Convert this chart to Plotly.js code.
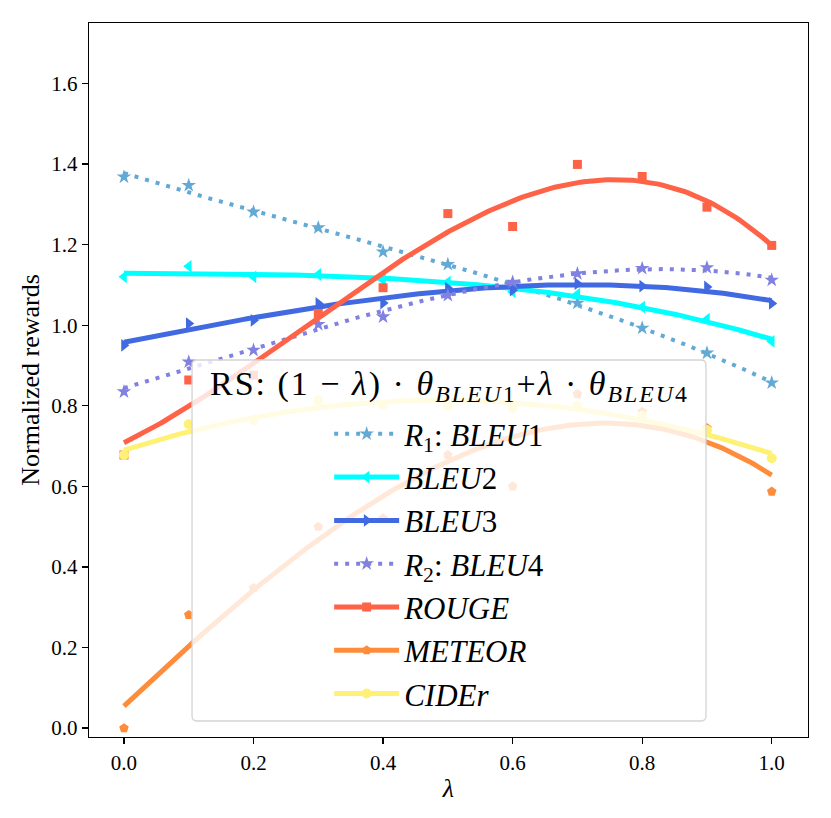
<!DOCTYPE html>
<html>
<head>
<meta charset="utf-8">
<script src="https://cdn.plot.ly/plotly-3.0.1.min.js"></script>
<style>
  html, body { margin: 0; padding: 0; background: #fff; }
  #chart { width: 831px; height: 818px; }
  /* wider spacing, closer to the math italic look of the original */
  #chart .annotation-text { letter-spacing: 2px; }
</style>
</head>
<body>
<div id="chart"></div>
<script>
// lambda values on the x axis
var lambdas = [0.0, 0.1, 0.2, 0.3, 0.4, 0.5, 0.6, 0.7, 0.8, 0.9, 1.0];

// normalized rewards
var bleu1  = [1.368, 1.347, 1.281, 1.242, 1.182, 1.151, 1.104, 1.055, 0.993, 0.931, 0.857];
var bleu2  = [1.120, 1.146, 1.120, 1.126, 1.112, 1.107, 1.083, 1.077, 1.045, 1.015, 0.960];
var bleu3  = [0.950, 1.004, 1.012, 1.054, 1.055, 1.092, 1.087, 1.103, 1.097, 1.095, 1.054];
var bleu4  = [0.835, 0.909, 0.938, 1.002, 1.021, 1.074, 1.107, 1.128, 1.141, 1.143, 1.112];
var rouge  = [0.678, 0.864, 0.876, 1.029, 1.093, 1.277, 1.245, 1.399, 1.369, 1.293, 1.198];
var meteor = [0.000, 0.281, 0.348, 0.500, 0.521, 0.678, 0.600, 0.829, 0.785, 0.745, 0.587];
var cider  = [0.678, 0.754, 0.764, 0.814, 0.802, 0.800, 0.794, 0.800, 0.775, 0.740, 0.670];

var xTicks = [0.0, 0.2, 0.4, 0.6, 0.8, 1.0];
var yTicks = [0.0, 0.2, 0.4, 0.6, 0.8, 1.0, 1.2, 1.4, 1.6];

var series = [
  {name: '<i>R</i><sub>1</sub>: <i>BLEU</i>1', y: bleu1, color: '#63a9d5', symbol: 'star', size: 11, dash: '4px,7px', width: 4},
  {name: '<i>BLEU</i>2', y: bleu2, color: '#00ffff', symbol: 'triangle-left', size: 11, dash: 'solid', width: 5},
  {name: '<i>BLEU</i>3', y: bleu3, color: '#4169e1', symbol: 'triangle-right', size: 11, dash: 'solid', width: 5},
  {name: '<i>R</i><sub>2</sub>: <i>BLEU</i>4', y: bleu4, color: '#8181e2', symbol: 'star', size: 11, dash: '4px,7px', width: 4},
  {name: '<i>ROUGE</i>', y: rouge, color: '#ff6347', symbol: 'square', size: 9, dash: 'solid', width: 5},
  {name: '<i>METEOR</i>', y: meteor, color: '#ff8c3a', symbol: 'pentagon', size: 10, dash: 'solid', width: 5},
  {name: '<i>CIDEr</i>', y: cider, color: '#fff176', symbol: 'circle', size: 10, dash: 'solid', width: 5}
];

// least squares polynomial fit, returns coefficients c0..cn
function polyfit(xs, ys, deg) {
  var n = deg + 1;
  var A = [];
  for (var i = 0; i < n; i++) {
    A.push([]);
    for (var j = 0; j <= n; j++) A[i].push(0);
  }
  xs.forEach(function (x, k) {
    for (var i = 0; i < n; i++) {
      for (var j = 0; j < n; j++) A[i][j] += Math.pow(x, i + j);
      A[i][n] += ys[k] * Math.pow(x, i);
    }
  });
  for (var c = 0; c < n; c++) {
    var p = c;
    for (var r = c + 1; r < n; r++) if (Math.abs(A[r][c]) > Math.abs(A[p][c])) p = r;
    var tmp = A[c]; A[c] = A[p]; A[p] = tmp;
    for (var r2 = 0; r2 < n; r2++) {
      if (r2 === c) continue;
      var f = A[r2][c] / A[c][c];
      for (var k2 = c; k2 <= n; k2++) A[r2][k2] -= f * A[c][k2];
    }
  }
  return A.map(function (row, i) { return row[n] / row[i]; });
}

function polyval(coef, x) {
  return coef.reduce(function (s, c, i) { return s + c * Math.pow(x, i); }, 0);
}

var traces = [];
series.forEach(function (s, idx) {
  var coef = polyfit(lambdas, s.y, 3);
  var fx = [], fy = [];
  for (var t = 0; t <= 200; t++) {
    var x = t / 200;
    fx.push(x);
    fy.push(polyval(coef, x));
  }
  traces.push({
    x: fx, y: fy, type: 'scatter', mode: 'lines',
    line: {color: s.color, width: s.width, dash: s.dash},
    legendgroup: 'g' + idx, showlegend: false, hoverinfo: 'skip'
  });
  // points separated by gaps, so no segment is drawn between them;
  // the line style is only there for the legend entry
  var px = [], py = [];
  lambdas.forEach(function (l, i) {
    px.push(l, null);
    py.push(s.y[i], null);
  });
  traces.push({
    x: px, y: py, type: 'scatter', mode: 'lines+markers',
    name: s.name, legendgroup: 'g' + idx,
    connectgaps: false,
    line: {color: s.color, width: s.width, dash: s.dash},
    marker: {color: s.color, symbol: s.symbol, size: s.size, line: {width: 0}}
  });
});

// legend box (matplotlib style, semi transparent)
var bx0 = 0.1433, bx1 = 0.8581, by0 = 0.0224, by1 = 0.528, rx = 0.007, ry = 0.007;
var boxPath = 'M' + (bx0 + rx) + ',' + by1 + ' L' + (bx1 - rx) + ',' + by1 +
  ' Q' + bx1 + ',' + by1 + ' ' + bx1 + ',' + (by1 - ry) +
  ' L' + bx1 + ',' + (by0 + ry) + ' Q' + bx1 + ',' + by0 + ' ' + (bx1 - rx) + ',' + by0 +
  ' L' + (bx0 + rx) + ',' + by0 + ' Q' + bx0 + ',' + by0 + ' ' + bx0 + ',' + (by0 + ry) +
  ' L' + bx0 + ',' + (by1 - ry) + ' Q' + bx0 + ',' + by1 + ' ' + (bx0 + rx) + ',' + by1 + ' Z';

var serif = '"Liberation Serif", "DejaVu Serif", serif';

var layout = {
  width: 831, height: 818,
  margin: {l: 89, r: 23, t: 23, b: 81},
  paper_bgcolor: '#fff', plot_bgcolor: '#fff',
  font: {family: serif, color: '#000', size: 21},
  showlegend: true,
  xaxis: {
    range: [-0.054, 1.056], tickvals: xTicks, tickformat: '.1f',
    ticks: 'outside', ticklen: 6, tickwidth: 1.3, tickcolor: '#000',
    showline: true, linecolor: '#000', linewidth: 1.3, mirror: true,
    showgrid: false, zeroline: false,
    tickfont: {size: 21},
    title: {text: '<i>λ</i>', font: {size: 26}, standoff: 5}
  },
  yaxis: {
    range: [-0.022, 1.75], tickvals: yTicks, tickformat: '.1f',
    ticks: 'outside', ticklen: 6, tickwidth: 1.3, tickcolor: '#000',
    showline: true, linecolor: '#000', linewidth: 1.3, mirror: true,
    showgrid: false, zeroline: false,
    tickfont: {size: 21},
    title: {text: 'Normalized rewards', font: {size: 26}, standoff: 4}
  },
  legend: {
    x: 0.334, xanchor: 'left', y: 0.462, yanchor: 'top',
    bgcolor: 'rgba(0,0,0,0)', borderwidth: 0,
    font: {size: 31}, itemwidth: 65,
    traceorder: 'grouped', tracegroupgap: 0
  },
  shapes: [{
    type: 'path', xref: 'paper', yref: 'paper', path: boxPath,
    fillcolor: 'rgba(255,255,255,0.8)', line: {color: '#d4d4d4', width: 1.3},
    layer: 'above'
  }],
  annotations: [{
    xref: 'paper', yref: 'paper', x: (bx0 + bx1) / 2, y: 0.492,
    xanchor: 'center', yanchor: 'middle', showarrow: false,
    text: 'RS: (1 − <i>λ</i>) · <i>θ</i><sub><i>BLEU</i>1</sub>+<i>λ</i> · <i>θ</i><sub><i>BLEU</i>4</sub>',
    font: {size: 34}
  }]
};

Plotly.newPlot('chart', traces, layout, {displayModeBar: false, staticPlot: true});
</script>
</body>
</html>
